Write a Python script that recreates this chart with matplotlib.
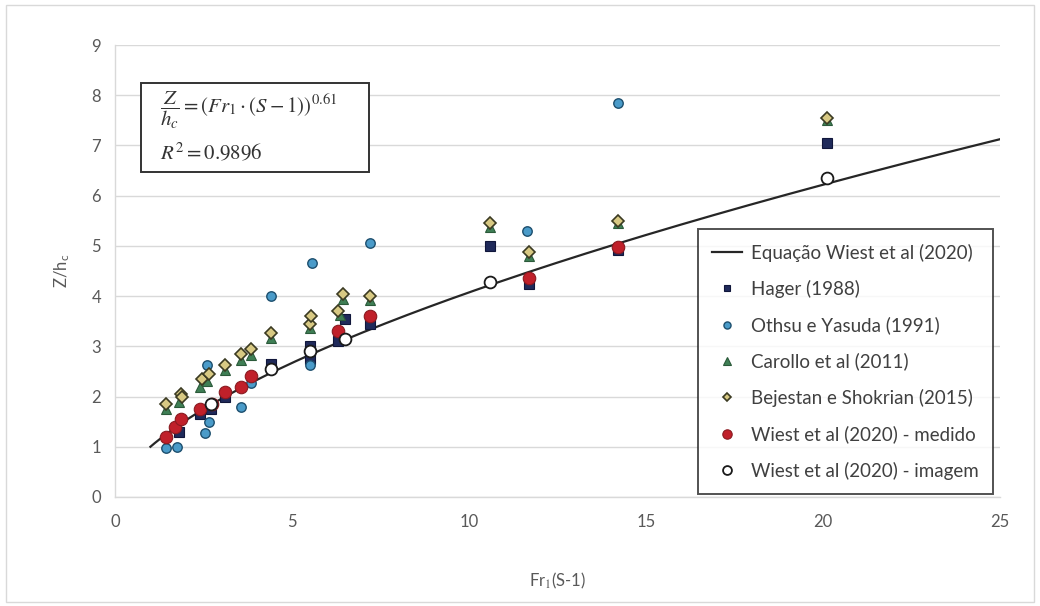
import numpy as np
import matplotlib
matplotlib.use("Agg")
import matplotlib.pyplot as plt
from matplotlib.patches import Rectangle

plt.rcParams['font.family'] = ['Lato', 'DejaVu Sans']
plt.rcParams['mathtext.fontset'] = 'stix'

# ---- data ----
fit_exponent = 0.61
fit_x = np.linspace(1.0, 25.0, 200)

hager_x = [1.8, 2.4, 2.7, 3.1, 4.4, 5.5, 5.5, 6.3, 6.5, 7.2, 10.6, 11.7, 14.2, 20.1]
hager_y = [1.3, 1.65, 1.75, 2.0, 2.65, 2.75, 3.0, 3.1, 3.55, 3.45, 5.0, 4.25, 4.92, 7.05]

othsu_x = [1.45, 1.75, 2.55, 2.65, 2.6, 3.55, 3.85, 4.4, 5.5, 5.57, 7.2, 11.65, 14.2]
othsu_y = [0.98, 1.0, 1.28, 1.49, 2.63, 1.79, 2.27, 4.0, 2.62, 4.65, 5.05, 5.3, 7.85]

carollo_x = [1.45, 1.8, 2.4, 2.6, 3.1, 3.55, 3.85, 4.4, 5.5, 6.35, 6.45, 7.2, 10.6, 11.7, 14.2, 20.1]
carollo_y = [1.75, 1.9, 2.2, 2.3, 2.52, 2.72, 2.82, 3.17, 3.37, 3.62, 3.95, 3.92, 5.38, 4.8, 5.45, 7.5]

bejestan_x = [1.45, 1.85, 1.9, 2.45, 2.65, 3.1, 3.55, 3.85, 4.4, 5.5, 5.55, 6.3, 6.45, 7.2, 10.6, 11.7, 14.2, 20.1]
bejestan_y = [1.85, 2.05, 2.0, 2.35, 2.45, 2.62, 2.85, 2.95, 3.27, 3.45, 3.6, 3.7, 4.05, 4.0, 5.45, 4.88, 5.5, 7.55]

medido_x = [1.45, 1.7, 1.85, 2.4, 2.75, 3.1, 3.55, 3.85, 6.3, 7.2, 11.7, 14.2]
medido_y = [1.2, 1.4, 1.55, 1.75, 1.85, 2.1, 2.2, 2.4, 3.3, 3.6, 4.37, 4.97]

imagem_x = [2.7, 4.4, 5.5, 6.5, 10.6, 20.1]
imagem_y = [1.85, 2.55, 2.9, 3.15, 4.28, 6.35]

x_ticks = [0, 5, 10, 15, 20, 25]
y_ticks = [0, 1, 2, 3, 4, 5, 6, 7, 8, 9]

labels = ["Equação Wiest et al (2020)", "Hager (1988)", "Othsu e Yasuda (1991)",
          "Carollo et al (2011)", "Bejestan e Shokrian (2015)",
          "Wiest et al (2020) - medido", "Wiest et al (2020) - imagem"]

# ---- figure ----
fig = plt.figure(figsize=(10.4, 6.06), dpi=100)
ax = fig.add_axes([0.1106, 0.1799, 0.8509, 0.7458])

fig.patches.append(Rectangle((0.006, 0.006), 0.988, 0.985, transform=fig.transFigure,
                             fill=False, edgecolor='#d9d9d9', linewidth=1.0))

txt = '#595959'

ax.plot(fit_x, fit_x ** fit_exponent, color='#262626', lw=1.6, label=labels[0], zorder=3)
ax.plot(hager_x, hager_y, ls='none', marker='s', ms=6.5, mfc='#1f2a5a', mec='#10163a',
        mew=0.8, label=labels[1], zorder=4)
ax.plot(othsu_x, othsu_y, ls='none', marker='o', ms=6.8, mfc='#4a9bc9', mec='#1d4f6e',
        mew=1.0, label=labels[2], zorder=5)
ax.plot(carollo_x, carollo_y, ls='none', marker='^', ms=7, mfc='#3f7f55', mec='#2b5a3a',
        mew=0.8, label=labels[3], zorder=6)
ax.plot(bejestan_x, bejestan_y, ls='none', marker='D', ms=6, mfc='#d8c983', mec='#3b3a22',
        mew=1.2, label=labels[4], zorder=7)
ax.plot(medido_x, medido_y, ls='none', marker='o', ms=9, mfc='#c0202a', mec='#8a1a20',
        mew=0.8, label=labels[5], zorder=8)
ax.plot(imagem_x, imagem_y, ls='none', marker='o', ms=8.5, mfc='white', mec='#1a1a1a',
        mew=1.3, label=labels[6], zorder=9)

ax.set_xlim(0, 25)
ax.set_ylim(0, 9)
ax.set_xticks(x_ticks)
ax.set_yticks(y_ticks)
ax.tick_params(length=0, labelsize=12, labelcolor=txt)
ax.tick_params(axis='y', pad=10)
ax.tick_params(axis='x', pad=12)
ax.grid(axis='y', color='#d9d9d9', lw=1.0)
ax.set_axisbelow(True)
for s in ['top', 'right']:
    ax.spines[s].set_visible(False)
for s in ['left', 'bottom']:
    ax.spines[s].set_color('#d9d9d9')
    ax.spines[s].set_linewidth(1.0)

ax.set_xlabel('Fr$_1$(S-1)', fontsize=12, color=txt, labelpad=30)
ax.set_ylabel('Z/h$_\\mathregular{c}$', fontsize=12, color=txt, labelpad=14)

# equation box
ax.add_patch(Rectangle((0.029, 0.719), 0.258, 0.197, transform=ax.transAxes,
                       facecolor='white', edgecolor='#333333', lw=1.4, zorder=10))
ax.text(0.051, 0.856, r'$\dfrac{Z}{h_c} = \left(Fr_1\cdot(S-1)\right)^{0.61}$',
        transform=ax.transAxes, fontsize=15, va='center', ha='left', color='#333333',
        zorder=11)
ax.text(0.051, 0.763, r'$R^2 = 0.9896$',
        transform=ax.transAxes, fontsize=15, va='center', ha='left', color='#333333',
        zorder=11)

leg = ax.legend(loc='upper right', bbox_to_anchor=(0.992, 0.592), fontsize=13.5, frameon=True,
                fancybox=False, edgecolor='#262626', labelspacing=0.98, handlelength=1.6,
                handletextpad=0.5, borderpad=0.75, borderaxespad=0, markerscale=0.75,
                labelcolor='#404040')
leg.get_frame().set_linewidth(1.4)
leg.set_zorder(12)

fig.savefig('out.png', dpi=100)
